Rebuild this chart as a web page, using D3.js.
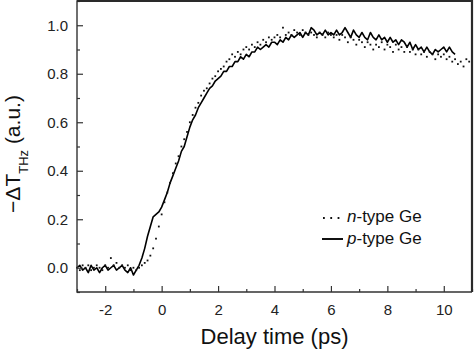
<!DOCTYPE html>
<html>
<head>
<meta charset="utf-8">
<script src="https://cdn.jsdelivr.net/npm/d3@7"></script>
<style>
  html, body { margin: 0; padding: 0; background: #fff; }
  svg { display: block; font-family: "Liberation Sans", Arial, sans-serif; }
</style>
</head>
<body>
<svg id="chart" width="474" height="351"></svg>
<script>
// delay time (ps), -dT_THz (a.u.)
const pType = [
  [-3.0, 0.00], [-2.9, 0.01], [-2.8, -0.01], [-2.7, 0.00], [-2.6, -0.02], [-2.5, 0.01], [-2.4, -0.01], [-2.3, 0.00],
  [-2.2, -0.02], [-2.1, 0.00], [-2.0, 0.01], [-1.9, -0.01], [-1.8, 0.00], [-1.7, 0.01], [-1.6, -0.01], [-1.5, 0.00],
  [-1.4, 0.01], [-1.3, -0.01], [-1.2, -0.02], [-1.1, 0.00], [-1.0, -0.03], [-0.9, -0.01], [-0.8, 0.01], [-0.7, 0.04],
  [-0.6, 0.08], [-0.5, 0.13], [-0.4, 0.17], [-0.3, 0.21], [-0.2, 0.22], [-0.1, 0.23], [0.0, 0.25], [0.1, 0.28],
  [0.2, 0.31], [0.3, 0.35], [0.4, 0.38], [0.5, 0.41], [0.6, 0.44], [0.7, 0.48], [0.8, 0.50], [0.9, 0.54],
  [1.0, 0.58], [1.1, 0.61], [1.2, 0.63], [1.3, 0.66], [1.4, 0.68], [1.5, 0.70], [1.6, 0.72], [1.7, 0.74],
  [1.8, 0.75], [1.9, 0.77], [2.0, 0.78], [2.1, 0.79], [2.2, 0.81], [2.3, 0.81], [2.4, 0.83], [2.5, 0.83],
  [2.6, 0.85], [2.7, 0.85], [2.8, 0.87], [2.9, 0.86], [3.0, 0.88], [3.1, 0.87], [3.2, 0.89], [3.3, 0.89],
  [3.4, 0.91], [3.5, 0.90], [3.6, 0.91], [3.7, 0.92], [3.8, 0.91], [3.9, 0.93], [4.0, 0.93], [4.1, 0.92],
  [4.2, 0.94], [4.3, 0.93], [4.4, 0.95], [4.5, 0.94], [4.6, 0.96], [4.7, 0.95], [4.8, 0.96], [4.9, 0.97],
  [5.0, 0.95], [5.1, 0.97], [5.2, 0.96], [5.3, 0.99], [5.4, 0.98], [5.5, 0.96], [5.6, 0.97], [5.7, 0.96],
  [5.8, 0.98], [5.9, 0.96], [6.0, 0.97], [6.1, 0.96], [6.2, 0.98], [6.3, 0.96], [6.4, 0.97], [6.5, 0.99],
  [6.6, 0.97], [6.7, 0.95], [6.8, 0.98], [6.9, 0.96], [7.0, 0.95], [7.1, 0.97], [7.2, 0.95], [7.3, 0.94],
  [7.4, 0.97], [7.5, 0.95], [7.6, 0.94], [7.7, 0.96], [7.8, 0.94], [7.9, 0.95], [8.0, 0.93], [8.1, 0.95],
  [8.2, 0.93], [8.3, 0.94], [8.4, 0.92], [8.5, 0.94], [8.6, 0.93], [8.7, 0.91], [8.8, 0.93], [8.9, 0.90],
  [9.0, 0.92], [9.1, 0.90], [9.2, 0.91], [9.3, 0.89], [9.4, 0.91], [9.5, 0.89], [9.6, 0.88], [9.7, 0.90],
  [9.8, 0.89], [9.9, 0.90], [10.0, 0.91], [10.1, 0.89], [10.2, 0.91], [10.3, 0.89], [10.4, 0.88]
];

const nType = [
  [-3.0, 0.00], [-2.9, -0.01], [-2.8, 0.01], [-2.7, 0.00], [-2.6, 0.01], [-2.5, -0.01], [-2.4, 0.00], [-2.3, 0.01],
  [-2.2, 0.00], [-2.1, -0.01], [-2.0, 0.01], [-1.9, 0.00], [-1.8, 0.04], [-1.7, 0.01], [-1.6, 0.02], [-1.5, 0.00],
  [-1.4, 0.01], [-1.3, 0.00], [-1.2, 0.01], [-1.1, -0.01], [-1.0, 0.00], [-0.9, -0.01], [-0.8, 0.00], [-0.7, 0.01],
  [-0.6, 0.02], [-0.5, 0.03], [-0.4, 0.05], [-0.3, 0.08], [-0.2, 0.12], [-0.1, 0.17], [0.0, 0.22], [0.1, 0.27],
  [0.2, 0.31], [0.3, 0.35], [0.4, 0.39], [0.5, 0.43], [0.6, 0.46], [0.7, 0.50], [0.8, 0.53], [0.9, 0.56],
  [1.0, 0.60], [1.1, 0.63], [1.2, 0.66], [1.3, 0.68], [1.4, 0.71], [1.5, 0.73], [1.6, 0.74], [1.7, 0.76],
  [1.8, 0.78], [1.9, 0.79], [2.0, 0.81], [2.1, 0.82], [2.2, 0.83], [2.3, 0.85], [2.4, 0.86], [2.5, 0.88],
  [2.6, 0.87], [2.7, 0.89], [2.8, 0.88], [2.9, 0.90], [3.0, 0.91], [3.1, 0.90], [3.2, 0.92], [3.3, 0.91],
  [3.4, 0.93], [3.5, 0.92], [3.6, 0.94], [3.7, 0.93], [3.8, 0.95], [3.9, 0.94], [4.0, 0.95], [4.1, 0.96],
  [4.2, 0.95], [4.3, 0.99], [4.4, 0.96], [4.5, 0.97], [4.6, 0.96], [4.7, 0.98], [4.8, 0.97], [4.9, 0.96],
  [5.0, 0.98], [5.1, 0.97], [5.2, 0.96], [5.3, 0.97], [5.4, 0.96], [5.5, 0.95], [5.6, 0.97], [5.7, 0.96],
  [5.8, 0.95], [5.9, 0.97], [6.0, 0.96], [6.1, 0.95], [6.2, 0.96], [6.3, 0.94], [6.4, 0.96], [6.5, 0.95],
  [6.6, 0.93], [6.7, 0.95], [6.8, 0.94], [6.9, 0.92], [7.0, 0.94], [7.1, 0.93], [7.2, 0.91], [7.3, 0.93],
  [7.4, 0.92], [7.5, 0.90], [7.6, 0.92], [7.7, 0.91], [7.8, 0.93], [7.9, 0.90], [8.0, 0.92], [8.1, 0.91],
  [8.2, 0.89], [8.3, 0.92], [8.4, 0.90], [8.5, 0.91], [8.6, 0.89], [8.7, 0.91], [8.8, 0.89], [8.9, 0.90],
  [9.0, 0.88], [9.1, 0.90], [9.2, 0.88], [9.3, 0.89], [9.4, 0.87], [9.5, 0.89], [9.6, 0.88], [9.7, 0.86],
  [9.8, 0.88], [9.9, 0.87], [10.0, 0.88], [10.1, 0.86], [10.2, 0.87], [10.3, 0.85], [10.4, 0.86], [10.5, 0.84],
  [10.6, 0.85], [10.7, 0.83], [10.8, 0.86], [10.9, 0.85], [11.0, 0.84]
];

const xTicks = [-2, 0, 2, 4, 6, 8, 10];
const xMinorTicks = [-3, -1, 1, 3, 5, 7, 9, 11];
const yTicks = [0.0, 0.2, 0.4, 0.6, 0.8, 1.0];
const yMinorTicks = [-0.1, 0.1, 0.3, 0.5, 0.7, 0.9, 1.1];

const margin = { left: 77, right: 2, top: 1, bottom: 59 };
const W = 474, H = 351;
const svg = d3.select("#chart");

const x = d3.scaleLinear().domain([-3, 11]).range([margin.left, W - margin.right]);
const y = d3.scaleLinear().domain([-0.1, 1.1]).range([H - margin.bottom, margin.top]);

const axisColor = "#333";

// data
const line = d3.line().x((d) => x(d[0])).y((d) => y(d[1]));

svg.append("path")
  .datum(pType)
  .attr("d", line)
  .attr("fill", "none")
  .attr("stroke", "#000")
  .attr("stroke-width", 1.6)
  .attr("stroke-linejoin", "round");

svg.append("g")
  .selectAll("rect")
  .data(nType)
  .join("rect")
  .attr("x", (d) => x(d[0]) - 0.9)
  .attr("y", (d) => y(d[1]) - 0.9)
  .attr("width", 1.8)
  .attr("height", 1.8)
  .attr("fill", "#111");

// axes (ticks inward)
function styleAxis(g) {
  g.select(".domain").remove();
  g.selectAll(".tick line").attr("stroke", axisColor).attr("stroke-width", 1.2);
  g.selectAll(".tick text").attr("fill", "#222").attr("font-size", 15).attr("font-family", "Liberation Sans, Arial, sans-serif");
}

svg.append("g")
  .attr("transform", `translate(0,${y.range()[0]})`)
  .call(d3.axisBottom(x).tickValues(xTicks).tickSizeInner(-6).tickSizeOuter(0).tickPadding(12).tickFormat((d) => String(d)))
  .call(styleAxis);

svg.append("g")
  .attr("transform", `translate(0,${y.range()[0]})`)
  .call(d3.axisBottom(x).tickValues(xMinorTicks).tickSizeInner(-3).tickSizeOuter(0).tickFormat(""))
  .call(styleAxis);

svg.append("g")
  .attr("transform", `translate(${x.range()[0]},0)`)
  .call(d3.axisLeft(y).tickValues(yTicks).tickSizeInner(-6).tickSizeOuter(0).tickPadding(9).tickFormat((d) => d.toFixed(1)))
  .call(styleAxis);

svg.append("g")
  .attr("transform", `translate(${x.range()[0]},0)`)
  .call(d3.axisLeft(y).tickValues(yMinorTicks).tickSizeInner(-3).tickSizeOuter(0).tickFormat(""))
  .call(styleAxis);

// frame: left/bottom thinner, top/right heavier like the original
const [x0, x1] = x.range();
const [yb, yt] = y.range();
svg.append("path")
  .attr("d", `M${x1},${yt}L${x0},${yt}L${x0},${yb}L${x1},${yb}`)
  .attr("fill", "none")
  .attr("stroke", axisColor)
  .attr("stroke-width", 1.4);
svg.append("path")
  .attr("d", `M${x0},${yt}L${x1},${yt}L${x1},${yb}`)
  .attr("fill", "none")
  .attr("stroke", "#2a2a2a")
  .attr("stroke-width", 2.2);

// axis titles
svg.append("text")
  .attr("x", (x0 + x1) / 2)
  .attr("y", 344)
  .attr("text-anchor", "middle")
  .attr("font-size", 22)
  .attr("fill", "#111")
  .text("Delay time (ps)");

const yTitle = svg.append("text")
  .attr("transform", "translate(20,154) rotate(-90)")
  .attr("text-anchor", "middle")
  .attr("font-size", 21)
  .attr("fill", "#111");
yTitle.append("tspan").text("\u2212\u0394T");
yTitle.append("tspan").attr("font-size", 13).attr("dy", 8).text("THz");
yTitle.append("tspan").attr("dy", -8).text(" (a.u.)");

// legend
const legend = svg.append("g").attr("font-size", 17).attr("fill", "#111");
const legendItems = [
  { label: "n", rest: "-type Ge", dotted: true, yy: 222 },
  { label: "p", rest: "-type Ge", dotted: false, yy: 244 }
];
legendItems.forEach((it) => {
  if (it.dotted) {
    legend.append("line")
      .attr("x1", 323).attr("x2", 341)
      .attr("y1", it.yy - 4).attr("y2", it.yy - 4)
      .attr("stroke", "#111")
      .attr("stroke-width", 1.8)
      .attr("stroke-dasharray", "1.8,5.5");
  } else {
    legend.append("line")
      .attr("x1", 322).attr("x2", 343)
      .attr("y1", it.yy - 5).attr("y2", it.yy - 5)
      .attr("stroke", "#111")
      .attr("stroke-width", 2);
  }
  const t = legend.append("text").attr("x", 347).attr("y", it.yy);
  t.append("tspan").attr("font-style", "italic").text(it.label);
  t.append("tspan").text(it.rest);
});
</script>
</body>
</html>
